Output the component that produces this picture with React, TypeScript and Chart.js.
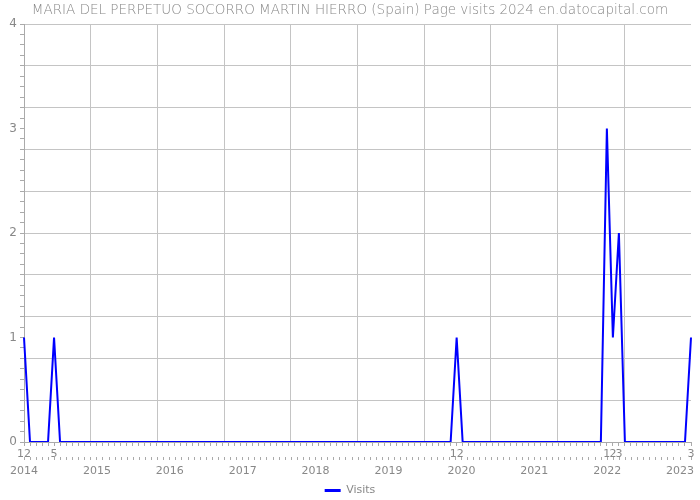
import React, { useEffect, useRef } from "react";
import { Chart, registerables } from "chart.js";

Chart.register(...registerables);

const titleText =
  "MARIA DEL PERPETUO SOCORRO MARTIN HIERRO (Spain) Page visits 2024 en.datocapital.com";
const seriesLabel = "Visits";

// Monthly categories, first month Dec 2013, last month Mar 2023
const startYear = 2013;
const startMonth = 12;

// Visits per month (Dec 2013 .. Mar 2023)
const visits: number[] = [
  1, 0, 0, 0, 0, 1, 0, 0, 0, 0, 0, 0,
  0, 0, 0, 0, 0, 0, 0, 0, 0, 0, 0, 0,
  0, 0, 0, 0, 0, 0, 0, 0, 0, 0, 0, 0,
  0, 0, 0, 0, 0, 0, 0, 0, 0, 0, 0, 0,
  0, 0, 0, 0, 0, 0, 0, 0, 0, 0, 0, 0,
  0, 0, 0, 0, 0, 0, 0, 0, 0, 0, 0, 0,
  1, 0, 0, 0, 0, 0, 0, 0, 0, 0, 0, 0,
  0, 0, 0, 0, 0, 0, 0, 0, 0, 0, 0, 0,
  0, 3, 1, 2, 0, 0, 0, 0, 0, 0, 0, 0,
  0, 0, 0, 1,
];

const yearLabels = ["2014", "2015", "2016", "2017", "2018", "2019", "2020", "2021", "2022", "2023"];
const yTickLabels = ["0", "1", "2", "3", "4"];

const months: { label: string; month: number }[] = visits.map((_, i) => {
  const m0 = startMonth - 1 + i;
  const y = startYear + Math.floor(m0 / 12);
  const m = (m0 % 12) + 1;
  return { label: `${y}-${String(m).padStart(2, "0")}`, month: m };
});
const categories = months.map((m) => m.label);

const TEXT = "#888";
const GRID = "#c4c4c4";
const AXIS = "#aaa";
const BLUE = "#0000ff";

const near = (v: number, step: number) => Math.abs(v / step - Math.round(v / step)) < 1e-6;

export default function App() {
  const ref = useRef<HTMLCanvasElement | null>(null);
  useEffect(() => {
    if (!ref.current) return;
    Chart.defaults.font.family = "'DejaVu Sans', sans-serif";
    Chart.defaults.color = TEXT;
    const chart = new Chart(ref.current, {
      type: "line",
      data: {
        labels: categories,
        datasets: [
          {
            label: seriesLabel,
            data: visits,
            borderColor: BLUE,
            backgroundColor: BLUE,
            borderWidth: 2,
            pointRadius: 0,
            tension: 0,
            fill: false,
            xAxisID: "x",
            yAxisID: "y",
          },
        ],
      },
      options: {
        animation: false,
        responsive: true,
        maintainAspectRatio: false,
        layout: { padding: { left: 0, right: 0, top: 0, bottom: -6 } },
        plugins: {
          title: {
            display: true,
            text: titleText,
            color: TEXT,
            font: { size: 13.5, weight: 200 },
            padding: { top: 2, bottom: 5.8 },
          },
          legend: {
            display: true,
            position: "bottom",
            labels: {
              boxWidth: 16,
              boxHeight: 3,
              color: TEXT,
              font: { size: 11 },
              padding: 6,
              generateLabels: (c: any) =>
                Chart.defaults.plugins.legend.labels
                  .generateLabels(c)
                  .map((l: any) => ({ ...l, lineWidth: 0 })),
            },
          },
          tooltip: { enabled: false },
        },
        scales: {
          x: {
            type: "category",
            position: "bottom",
            offset: false,
            grid: { drawOnChartArea: false, drawTicks: true, tickLength: 4, tickColor: AXIS },
            border: { display: true, color: AXIS },
            ticks: {
              autoSkip: false,
              maxRotation: 0,
              minRotation: 0,
              padding: 3,
              color: TEXT,
              font: { size: 11, lineHeight: 1 },
              callback: (_v: any, i: number) => (visits[i] > 0 ? String(months[i].month) : ""),
            },
            afterFit: (s: any) => {
              s.height = 15;
            },
          },
          xYear: {
            type: "linear",
            position: "bottom",
            min: 0,
            max: 9.15,
            grid: { drawOnChartArea: false, drawTicks: true, tickLength: 3, tickColor: AXIS },
            border: { display: false },
            ticks: {
              stepSize: 1 / 12,
              autoSkip: false,
              maxRotation: 0,
              padding: 6,
              color: TEXT,
              font: { size: 11, lineHeight: 1 },
              callback: (v: any) => (near(Number(v), 1) ? yearLabels[Math.round(Number(v))] ?? "" : ""),
            },
            afterFit: (s: any) => {
              s.height = 22;
            },
          },
          xGrid: {
            type: "linear",
            position: "top",
            min: 0,
            max: 10,
            grid: {
              drawOnChartArea: true,
              drawTicks: false,
              color: (ctx: any) => (ctx.tick && ctx.tick.value >= 10 ? "rgba(0,0,0,0)" : GRID),
            },
            border: { display: false },
            ticks: { display: false, stepSize: 1 },
            afterFit: (s: any) => {
              s.height = 0;
            },
          },
          y: {
            type: "linear",
            min: 0,
            max: 4,
            grid: {
              drawTicks: true,
              tickLength: 4,
              tickColor: AXIS,
              color: (ctx: any) =>
                ctx.tick && near(ctx.tick.value, 0.4) ? GRID : "rgba(0,0,0,0)",
            },
            border: { display: true, color: AXIS },
            ticks: {
              stepSize: 0.1,
              autoSkip: false,
              padding: 3,
              color: TEXT,
              font: { size: 12 },
              callback: (v: any) =>
                near(Number(v), 1) ? yTickLabels[Math.round(Number(v))] ?? "" : "",
            },
            afterFit: (s: any) => {
              s.width = 24;
            },
          },
          yRight: {
            type: "linear",
            position: "right",
            min: 0,
            max: 4,
            grid: { display: false, drawTicks: false },
            border: { display: false },
            ticks: { display: false },
            afterFit: (s: any) => {
              s.width = 9;
            },
          },
        },
      } as any,
    });
    return () => chart.destroy();
  }, []);
  return (
    <div style={{ position: "absolute", left: 0, top: 0, width: 700, height: 500 }}>
      <canvas ref={ref} />
    </div>
  );
}
